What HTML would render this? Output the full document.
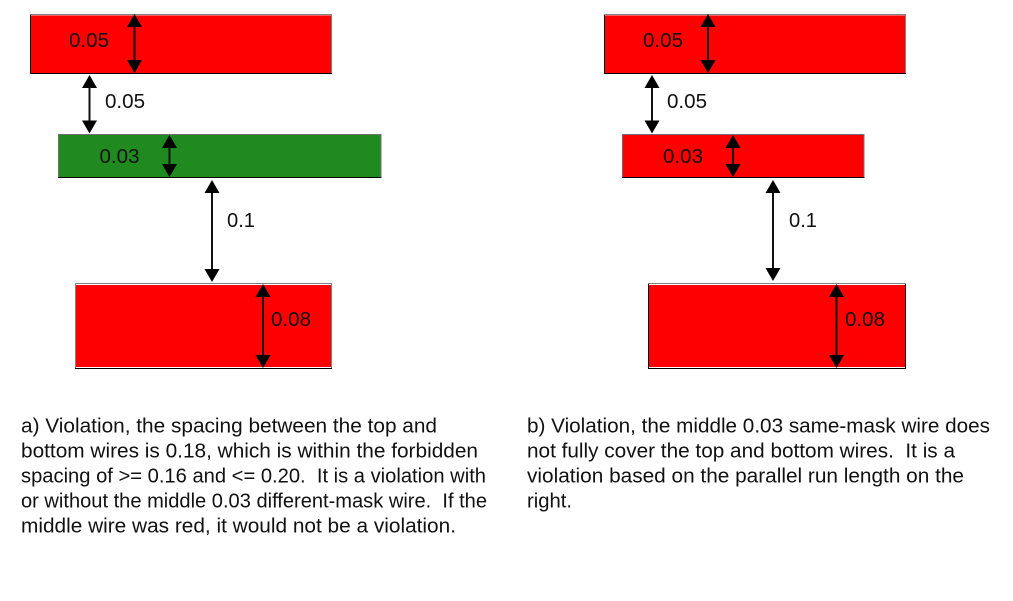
<!DOCTYPE html>
<html><head><meta charset="utf-8"><style>
html,body{margin:0;padding:0;background:#fff;width:1013px;height:601px;overflow:hidden}
svg{display:block}
text{font-family:"Liberation Sans",sans-serif;font-size:20.3px;fill:#111;white-space:pre}
.n{font-size:20.5px}
</style></head><body>
<svg width="1013" height="601" viewBox="0 0 1013 601" xmlns="http://www.w3.org/2000/svg">
<defs>
<path id="up" d="M0 0L-7.5 13H7.5Z" fill="#000"/>
<path id="dn" d="M0 0L-7.5 -13H7.5Z" fill="#000"/>
</defs>
<!-- left wires -->
<rect x="30.5" y="14.5" width="301" height="59" fill="#f00" stroke="#000"/>
<path d="M30 14.5H332M331.5 14V73" stroke="#808080" fill="none"/><path d="M31 15.5H331" stroke="#ff6060"/>
<rect x="58" y="135" width="323" height="42" fill="#208a20"/>
<path d="M58 177.5H381.5" stroke="#000"/><path d="M58 134.5H381M58.5 134V177M381 134V177" stroke="#707070" fill="none"/>
<rect x="75.5" y="283.5" width="256" height="85" fill="#f00" stroke="#808080"/>
<path d="M75 368.5H332" stroke="#000"/><path d="M76 284.5H331" stroke="#fff"/>
<path d="M76 367.5H331" stroke="#fff"/>
<!-- right wires -->
<rect x="604.5" y="14.5" width="301" height="59" fill="#f00" stroke="#000"/>
<path d="M604 14.5H906M905.5 14V73" stroke="#808080" fill="none"/><path d="M605 15.5H905" stroke="#ff6060"/>
<rect x="622" y="135" width="242" height="42" fill="#f00"/>
<path d="M622 177.5H864.5" stroke="#000"/><path d="M622 134.5H864M622.5 134V177M864 134V177" stroke="#707070" fill="none"/>
<rect x="648.5" y="283.5" width="257" height="85" fill="#f00" stroke="#000"/>
<path d="M648 283.5H906" stroke="#808080"/><path d="M649 284.5H905" stroke="#fff"/>
<path d="M649 367.5H905" stroke="#fff"/>
<!-- arrows -->
<g stroke="#111" stroke-width="2">
<path d="M134.5 20V68M89.5 80V128M169.5 140V172M212 186V276M263 290V362M708 20V68M652 80V128M733 140V172M773 186V276M836.5 290V362"/>
</g>
<use href="#up" x="134.5" y="14"/><use href="#dn" x="134.5" y="73"/>
<use href="#up" x="89.5" y="75"/><use href="#dn" x="89.5" y="133.5"/>
<use href="#up" x="169.5" y="135"/><use href="#dn" x="169.5" y="177"/>
<use href="#up" x="212" y="180"/><use href="#dn" x="212" y="282"/>
<use href="#up" x="263" y="284"/><use href="#dn" x="263" y="368"/>
<use href="#up" x="708" y="14"/><use href="#dn" x="708" y="73"/>
<use href="#up" x="652" y="75"/><use href="#dn" x="652" y="133.5"/>
<use href="#up" x="733" y="135"/><use href="#dn" x="733" y="177"/>
<use href="#up" x="773" y="180"/><use href="#dn" x="773" y="281"/>
<use href="#up" x="836.5" y="284"/><use href="#dn" x="836.5" y="368"/>
<!-- labels -->
<text class="n" x="69" y="47" textLength="40" lengthAdjust="spacingAndGlyphs">0.05</text>
<text class="n" x="105" y="108" textLength="40" lengthAdjust="spacingAndGlyphs">0.05</text>
<text class="n" x="99.5" y="163" textLength="40" lengthAdjust="spacingAndGlyphs">0.03</text>
<text class="n" x="227" y="227" textLength="28" lengthAdjust="spacingAndGlyphs">0.1</text>
<text class="n" x="271" y="326" textLength="40" lengthAdjust="spacingAndGlyphs">0.08</text>
<text class="n" x="643" y="47" textLength="40" lengthAdjust="spacingAndGlyphs">0.05</text>
<text class="n" x="667" y="108" textLength="40" lengthAdjust="spacingAndGlyphs">0.05</text>
<text class="n" x="663" y="163" textLength="40" lengthAdjust="spacingAndGlyphs">0.03</text>
<text class="n" x="789" y="227" textLength="28" lengthAdjust="spacingAndGlyphs">0.1</text>
<text class="n" x="845" y="326" textLength="40" lengthAdjust="spacingAndGlyphs">0.08</text>
<!-- captions -->
<text x="21" y="432.5" textLength="416" lengthAdjust="spacingAndGlyphs">a) Violation, the spacing between the top and</text>
<text x="21" y="457.5" textLength="457" lengthAdjust="spacingAndGlyphs">bottom wires is 0.18, which is within the forbidden</text>
<text x="21" y="482.5" textLength="465" lengthAdjust="spacingAndGlyphs">spacing of &gt;= 0.16 and &lt;= 0.20.  It is a violation with</text>
<text x="21" y="507.5" textLength="466" lengthAdjust="spacingAndGlyphs">or without the middle 0.03 different-mask wire.  If the</text>
<text x="21" y="532.5" textLength="435" lengthAdjust="spacingAndGlyphs">middle wire was red, it would not be a violation.</text>
<text x="527" y="432.5" textLength="463" lengthAdjust="spacingAndGlyphs">b) Violation, the middle 0.03 same-mask wire does</text>
<text x="527" y="457.5" textLength="428" lengthAdjust="spacingAndGlyphs">not fully cover the top and bottom wires.  It is a</text>
<text x="527" y="482.5" textLength="437" lengthAdjust="spacingAndGlyphs">violation based on the parallel run length on the</text>
<text x="527" y="507.5" textLength="45" lengthAdjust="spacingAndGlyphs">right.</text>
</svg>
</body></html>
